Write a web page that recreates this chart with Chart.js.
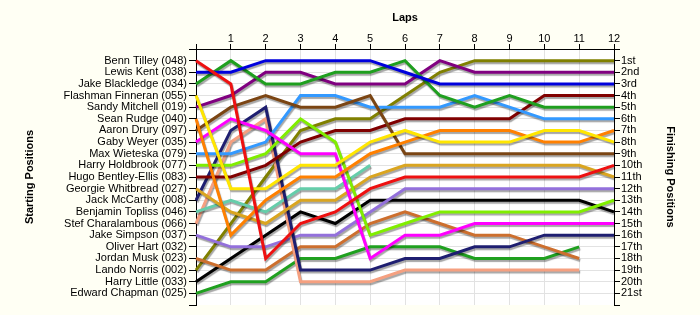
<!DOCTYPE html>
<html>
<head>
<meta charset="utf-8">
<script src="https://cdn.jsdelivr.net/npm/chart.js@4.4.1/dist/chart.umd.min.js"></script>
<style>
  html, body { margin: 0; padding: 0; background: #fffff4; }
  #race { display: block; }
</style>
</head>
<body>
<canvas id="race" width="700" height="315"></canvas>
<script>
// laps along the top, lap 0 = grid position
const laps = ['0', '1', '2', '3', '4', '5', '6', '7', '8', '9', '10', '11', '12']

const startNames = [
  'Benn Tilley (048)', 'Lewis Kent (038)', 'Jake Blackledge (034)', 'Flashman Finneran (055)',
  'Sandy Mitchell (019)', 'Sean Rudge (040)', 'Aaron Drury (097)', 'Gaby Weyer (035)',
  'Max Wieteska (079)', 'Harry Holdbrook (077)', 'Hugo Bentley-Ellis (083)', 'Georgie Whitbread (027)',
  'Jack McCarthy (008)', 'Benjamin Topliss (046)', 'Stef Charalambous (066)', 'Jake Simpson (037)',
  'Oliver Hart (032)', 'Jordan Musk (023)', 'Lando Norris (002)', 'Harry Little (033)',
  'Edward Chapman (025)'
]

const finishLabels = [
  '1st', '2nd', '3rd', '4th', '5th', '6th', '7th', '8th', '9th', '10th', '11th',
  '12th', '13th', '14th', '15th', '16th', '17th', '18th', '19th', '20th', '21st'
]

// position per lap (null = retired)
const bennTilley = [1, 3, 18, 15, 14, 12, 11, 11, 11, 11, 11, 11, 10]
const lewisKent = [2, 2, 1, 1, 1, 1, 2, 3, 3, 3, 3, 3, 3]
const jakeBlackledge = [3, 1, 3, 3, 2, 2, 1, 4, 5, 4, 5, 5, 5]
const flashmanFinneran = [4, 12, 12, 10, 10, 8, 7, 8, 8, 8, 7, 7, 8]
const sandyMitchell = [5, 4, 2, 2, 3, 3, 3, 1, 2, 2, 2, 2, 2]
const seanRudge = [6, 16, 13, 11, 11, 9, 8, 7, 7, 7, 8, 8, 7]
const aaronDrury = [7, 5, 4, 5, 5, 4, 9, 9, 9, 9, 9, 9, 9]
const gabyWeyer = [8, 6, 7, 9, 9, 18, 16, 16, 15, 15, 15, 15, 15]
const maxWieteska = [9, 9, 8, 4, 4, 5, 5, 5, 4, 5, 6, 6, 6]
const harryHoldbrook = [10, 10, 9, 6, 8, 16, 15, 14, 14, 14, 14, 14, 13]
const hugoBentleyEllis = [11, 11, 10, 8, 7, 7, 6, 6, 6, 6, 4, 4, 4]
const georgieWhitbread = [12, 14, 15, 13, 13, 11, 10, 10, 10, 10, 10, 10, 11]
const jackMcCarthy = [13, 7, 5, 19, 19, 19, 18, 18, 17, 17, 16, 16, 16]
const benjaminTopliss = [14, 13, 14, 12, 12, 10, null, null, null, null, null, null, null]
const stefCharalambous = [15, 8, 6, 20, 20, 20, 19, 19, 19, 19, 19, 19, null]
const jakeSimpson = [16, 17, 17, 16, 16, 14, 12, 12, 12, 12, 12, 12, 12]
const jordanMusk = [18, 19, 19, 17, 17, 15, 14, 15, 16, 16, 17, 18, null]
const landoNorris = [19, 15, 11, 7, 6, 6, 4, 2, 1, 1, 1, 1, 1]
const harryLittle = [20, 18, 16, 14, 15, 13, 13, 13, 13, 13, 13, 13, 14]
const edwardChapman = [21, 20, 20, 18, 18, 17, 17, 17, 18, 18, 18, 17, null]

const riders = [
  [startNames[0], bennTilley, '#ee1111'],
  [startNames[1], lewisKent, '#0000dd'],
  [startNames[2], jakeBlackledge, '#1f9f1f'],
  [startNames[3], flashmanFinneran, '#ffe600'],
  [startNames[4], sandyMitchell, '#800080'],
  [startNames[5], seanRudge, '#ff8000'],
  [startNames[6], aaronDrury, '#7b4513'],
  [startNames[7], gabyWeyer, '#ff00ff'],
  [startNames[8], maxWieteska, '#3399ff'],
  [startNames[9], harryHoldbrook, '#80ee00'],
  [startNames[10], hugoBentleyEllis, '#800000'],
  [startNames[11], georgieWhitbread, '#daa520'],
  [startNames[12], jackMcCarthy, '#1e1e70'],
  [startNames[13], benjaminTopliss, '#66cdaa'],
  [startNames[14], stefCharalambous, '#f5a080'],
  [startNames[15], jakeSimpson, '#9370db'],
  [startNames[17], jordanMusk, '#cd6f2e'],
  [startNames[18], landoNorris, '#808000'],
  [startNames[19], harryLittle, '#000000'],
  [startNames[20], edwardChapman, '#1fa01f']
]

const font = { family: 'Liberation Sans, Arial, sans-serif', size: 11, lineHeight: 1 }
const titleFont = { family: 'Liberation Sans, Arial, sans-serif', size: 11, weight: 'bold' }

const plotBackground = {
  id: 'plotBackground',
  beforeDraw(chart) {
    const { ctx, chartArea: a } = chart
    ctx.save()
    ctx.fillStyle = '#fffff4'
    ctx.fillRect(0, 0, chart.width, chart.height)
    ctx.fillStyle = '#ffffff'
    ctx.fillRect(a.left, a.top, a.right - a.left, a.bottom - a.top)
    ctx.restore()
  }
}

const shadow = {
  id: 'shadow',
  beforeDatasetsDraw(chart) {
    const ctx = chart.ctx
    ctx.save()
    ctx.shadowColor = 'rgba(0,0,0,0.35)'
    ctx.shadowOffsetX = 1
    ctx.shadowOffsetY = 2
    ctx.shadowBlur = 1
  },
  afterDatasetsDraw(chart) {
    chart.ctx.restore()
  }
}

function fixSize(prop, size) {
  return function (scale) {
    scale[prop] = size
    scale.paddingTop = 0
    scale.paddingBottom = 0
    scale.paddingLeft = 0
    scale.paddingRight = 0
  }
}

const gridColor = (c) => (c.tick && c.tick.value === 22 ? 'rgba(0,0,0,0)' : '#e2e2e2')

new Chart(document.getElementById('race'), {
  type: 'line',
  data: {
    labels: laps,
    datasets: riders.map(([name, data, color]) => ({
      label: name,
      data: data,
      borderColor: color,
      backgroundColor: color,
      borderWidth: 3,
      pointRadius: 0,
      pointHoverRadius: 0,
      tension: 0,
      fill: false,
      spanGaps: false
    }))
  },
  options: {
    responsive: false,
    animation: false,
    devicePixelRatio: 1,
    layout: { padding: { top: 0, left: 0, right: 0, bottom: 10 } },
    plugins: { legend: { display: false }, tooltip: { enabled: false } },
    scales: {
      x: {
        position: 'top',
        offset: false,
        afterFit: fixSize('height', 49),
        grid: { color: '#e2e2e2', tickColor: '#000', tickLength: 5, offset: false },
        border: { color: '#000', width: 1 },
        ticks: {
          font: font, color: '#000', padding: 0, autoSkip: false, maxRotation: 0,
          callback: (v, i) => (i === 0 ? '' : laps[i])
        },
        title: { display: true, text: 'Laps', font: titleFont, color: '#000', padding: { top: 11, bottom: 0 } }
      },
      y: {
        position: 'left',
        reverse: true,
        min: 0,
        max: 22,
        afterFit: fixSize('width', 196),
        grid: { color: gridColor, tickColor: '#000', tickLength: 7 },
        border: { color: '#000', width: 1 },
        ticks: {
          stepSize: 1, autoSkip: false, font: font, color: '#000', padding: 2,
          callback: (v) => (v >= 1 && v <= 21 ? startNames[v - 1] : '')
        },
        title: { display: true, text: 'Starting Positions', font: titleFont, color: '#000', padding: { top: 23.4, bottom: 0 } }
      },
      y2: {
        position: 'right',
        reverse: true,
        min: 0,
        max: 22,
        afterFit: fixSize('width', 86),
        grid: { drawOnChartArea: false, tickColor: '#000', tickLength: 6 },
        border: { color: '#000', width: 1 },
        ticks: {
          stepSize: 1, autoSkip: false, font: font, color: '#000', padding: 1,
          callback: (v) => (v >= 1 && v <= 21 ? finishLabels[v - 1] : '')
        },
        title: { display: true, text: 'Finishing Positions', font: titleFont, color: '#000', padding: { top: 23.4, bottom: 0 } }
      }
    }
  },
  plugins: [plotBackground, shadow]
})
</script>
</body>
</html>
